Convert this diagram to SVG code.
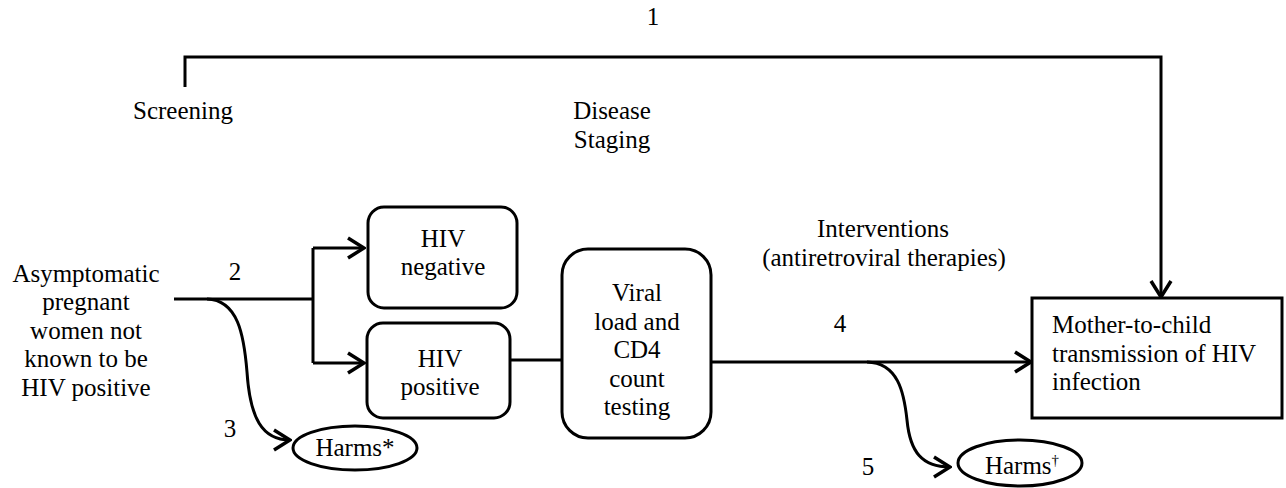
<svg xmlns="http://www.w3.org/2000/svg" width="1286" height="488" viewBox="0 0 1286 488" font-family="'Liberation Serif', 'DejaVu Serif', serif" font-size="25">
<style>
  text { font-family: 'Liberation Serif', 'DejaVu Serif', serif; font-size: 25px; fill: #000; }
  .c { text-anchor: middle; }
  .ln { fill: none; stroke: #000; stroke-width: 3; }
  .box { fill: #fff; stroke: #000; stroke-width: 3; }
</style>
<defs>
  <marker id="arr" viewBox="0 0 20 24" refX="18" refY="12" markerWidth="20" markerHeight="24" markerUnits="userSpaceOnUse" orient="auto">
    <path d="M2,2 L18,12 L2,22" fill="none" stroke="#000" stroke-width="3.5"/>
  </marker>
</defs>
<rect width="1286" height="488" fill="#fff"/>

<g id="connectors">
  <path class="ln" d="M185,87 V57 H1161 V297" marker-end="url(#arr)"/>
  <path class="ln" d="M174,299 H313"/>
  <path class="ln" d="M313,248 V363"/>
  <path class="ln" d="M313,248 H364" marker-end="url(#arr)"/>
  <path class="ln" d="M313,363 H364" marker-end="url(#arr)"/>
  <path class="ln" d="M207,299 C238,300 244,335 247,372 C250,418 262,440 290,440" marker-end="url(#arr)"/>
  <path class="ln" d="M510,360 H562"/>
  <path class="ln" d="M711,362 H1031" marker-end="url(#arr)"/>
  <path class="ln" d="M867,362 C898,363 904,392 907,420 C910,452 922,467 950,467" marker-end="url(#arr)"/>
</g>

<g id="labels">
  <text class="c" x="653" y="25">1</text>
  <text class="c" x="183" y="119">Screening</text>
  <text class="c" x="612" y="119">Disease</text>
  <text class="c" x="612" y="148">Staging</text>
  <text class="c" x="235" y="280">2</text>
  <text class="c" x="230" y="437">3</text>
  <text class="c" x="883" y="237">Interventions</text>
  <text class="c" x="884" y="266">(antiretroviral therapies)</text>
  <text class="c" x="840" y="332">4</text>
  <text class="c" x="868" y="475">5</text>
</g>

<g id="node-population">
  <text class="c" x="86" y="282">Asymptomatic</text>
  <text class="c" x="86" y="310">pregnant</text>
  <text class="c" x="86" y="339">women not</text>
  <text class="c" x="86" y="367">known to be</text>
  <text class="c" x="86" y="396">HIV positive</text>
</g>

<g id="node-hiv-negative">
  <rect class="box" x="368" y="207" width="149" height="101" rx="16"/>
  <text class="c" x="443" y="247">HIV</text>
  <text class="c" x="443" y="275">negative</text>
</g>

<g id="node-hiv-positive">
  <rect class="box" x="367" y="323" width="143" height="95" rx="16"/>
  <text class="c" x="440" y="367">HIV</text>
  <text class="c" x="440" y="395">positive</text>
</g>

<g id="node-viral-load">
  <rect class="box" x="562" y="249" width="149" height="189" rx="26"/>
  <text class="c" x="637" y="301">Viral</text>
  <text class="c" x="637" y="330">load and</text>
  <text class="c" x="637" y="358">CD4</text>
  <text class="c" x="637" y="387">count</text>
  <text class="c" x="637" y="415">testing</text>
</g>

<g id="node-outcome">
  <rect class="box" x="1032" y="298" width="250" height="120"/>
  <text x="1052" y="333">Mother-to-child</text>
  <text x="1052" y="362">transmission of HIV</text>
  <text x="1052" y="390">infection</text>
</g>

<g id="node-harms-screening">
  <ellipse class="box" cx="355" cy="448" rx="62" ry="22"/>
  <text class="c" x="355" y="456">Harms*</text>
</g>

<g id="node-harms-treatment">
  <ellipse class="box" cx="1020" cy="463" rx="62" ry="23"/>
  <text class="c" x="1022" y="474">Harms<tspan font-size="15" dy="-9">†</tspan></text>
</g>
</svg>
